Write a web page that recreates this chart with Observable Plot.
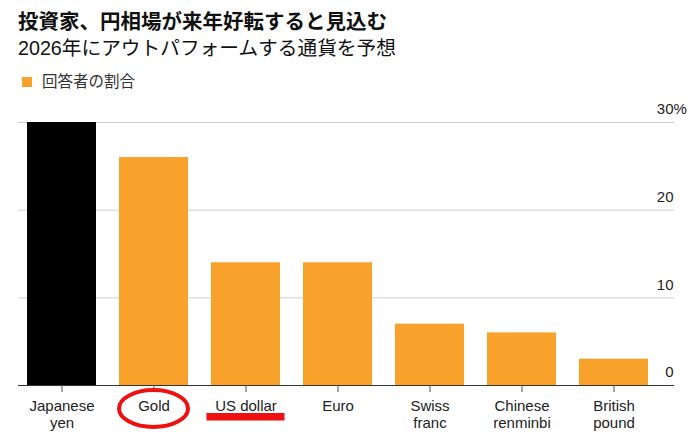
<!DOCTYPE html>
<html>
<head>
<meta charset="utf-8">
<script src="https://cdn.jsdelivr.net/npm/d3@7"></script>
<script src="https://cdn.jsdelivr.net/npm/@observablehq/plot@0.6"></script>
<style>
  html, body { margin: 0; padding: 0; background: #fff; }
  body { width: 700px; height: 441px; position: relative; overflow: hidden;
         font-family: "Liberation Sans", "Noto Sans CJK JP", sans-serif; color: #111; }
  #title { position: absolute; left: 18px; top: 9px; font-size: 20.5px; line-height: 26px; font-weight: bold; white-space: nowrap; }
  #subtitle { position: absolute; left: 18px; top: 36px; font-size: 19.7px; line-height: 24px; white-space: nowrap; color: #111; }
  #legend { position: absolute; left: 22px; top: 72px; font-size: 15.5px; line-height: 20px; color: #333; white-space: nowrap; }
  #legend .sw { position: absolute; left: 0; top: 5px; width: 10px; height: 10px; background: #F8A12B; }
  #legend .lb { position: absolute; left: 20px; top: 0; }
  #chart { position: absolute; left: 0; top: 95px; }
</style>
</head>
<body>
<div id="title">投資家、円相場が来年好転すると見込む</div>
<div id="subtitle">2026年にアウトパフォームする通貨を予想</div>
<div id="legend"><span class="sw"></span><span class="lb">回答者の割合</span></div>
<div id="chart"></div>
<script>
// ---- data ----
const currencies = ["Japanese yen", "Gold", "US dollar", "Euro", "Swiss franc", "Chinese renminbi", "British pound"];
const shares = [30, 26, 14, 14, 7, 6, 3];
const xLabels = ["Japanese\nyen", "Gold", "US dollar", "Euro", "Swiss\nfranc", "Chinese\nrenminbi", "British\npound"];
const yTicks = [0, 10, 20, 30];
const homeCurrency = ["Japanese yen"];
const circled = ["Gold"];
const underlined = ["US dollar"];

const data = currencies.map((c, i) => ({currency: c, share: shares[i]}));
const ORANGE = "#F8A12B";
const RED = "#EE1111";

function annotation(items, draw) {
  return Plot.dot(items, {
    x: d => d,
    frameAnchor: "bottom",
    render(index, scales, values, dimensions) {
      const g = d3.create("svg:g");
      const sx = scales.x;
      const bw = typeof sx.bandwidth === "function" ? sx.bandwidth() : 0;
      const base = dimensions.height - dimensions.marginBottom;
      for (const i of index) draw(g, sx(items[i]) + bw / 2, base);
      return g.node();
    }
  });
}

const chart = Plot.plot({
  width: 700,
  height: 346,
  marginTop: 27,
  marginBottom: 56,
  marginLeft: 18,
  marginRight: 26,
  style: {fontFamily: "'Liberation Sans', 'Noto Sans CJK JP', sans-serif", fontSize: "15px", background: "#fff", color: "#222", overflow: "visible"},
  x: {domain: currencies, paddingInner: 0.25, paddingOuter: 0.19, align: 0.25, label: null},
  y: {domain: [0, 30], label: null},
  marks: [
    Plot.gridY(yTicks, {stroke: "#cfcfcf", strokeOpacity: 1}),
    Plot.barY(data, {filter: d => !homeCurrency.includes(d.currency), x: "currency", y: "share", fill: ORANGE}),
    Plot.barY(data, {filter: d => homeCurrency.includes(d.currency), x: "currency", y: "share", fill: "#000"}),
    Plot.ruleY([0], {stroke: "#333"}),
    Plot.axisX({tickSize: 7, tickPadding: 6, stroke: "#555", fill: "#222", fontSize: 15, lineHeight: 1.15,
                tickFormat: d => xLabels[currencies.indexOf(d)], label: null}),
    Plot.axisY(yTicks, {anchor: "right", tickSize: 0, tickPadding: -1, textAnchor: "end", dy: -13, fill: "#222", fontSize: 15, label: null,
                tickFormat: d => String(d)}),
    Plot.text([30], {y: d => d, text: () => "%", frameAnchor: "right", textAnchor: "start", dx: -1, dy: -13, fill: "#222", fontSize: 15}),
    annotation(circled, (g, cx, base) => {
      g.append("ellipse").attr("cx", cx).attr("cy", base + 23.5).attr("rx", 34.5).attr("ry", 18.5)
        .attr("fill", "none").attr("stroke", RED).attr("stroke-width", 4);
    }),
    annotation(underlined, (g, cx, base) => {
      g.append("rect").attr("x", cx - 39).attr("y", base + 28).attr("width", 78).attr("height", 7.5)
        .attr("fill", RED);
    })
  ]
});
document.getElementById("chart").appendChild(chart);
</script>
</body>
</html>
